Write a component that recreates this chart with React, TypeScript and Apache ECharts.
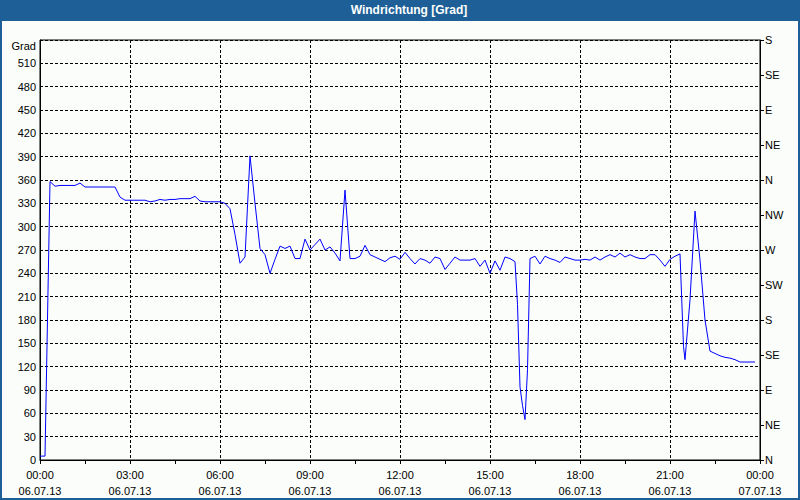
import React, { useEffect, useRef } from "react";
import * as echarts from "echarts";

const times = [
  "00:00", "00:10", "00:20", "00:30", "00:40", "00:50", "01:00", "01:10", "01:20", "01:30",
  "01:40", "01:50", "02:00", "02:10", "02:20", "02:30", "02:40", "02:50", "03:00", "03:10",
  "03:20", "03:30", "03:40", "03:50", "04:00", "04:10", "04:20", "04:30", "04:40", "04:50",
  "05:00", "05:10", "05:20", "05:30", "05:40", "05:50", "06:00", "06:10", "06:20", "06:30",
  "06:40", "06:50", "07:00", "07:10", "07:20", "07:30", "07:40", "07:50", "08:00", "08:10",
  "08:20", "08:30", "08:40", "08:50", "09:00", "09:10", "09:20", "09:30", "09:40", "09:50",
  "10:00", "10:10", "10:20", "10:30", "10:40", "10:50", "11:00", "11:10", "11:20", "11:30",
  "11:40", "11:50", "12:00", "12:10", "12:20", "12:30", "12:40", "12:50", "13:00", "13:10",
  "13:20", "13:30", "13:40", "13:50", "14:00", "14:10", "14:20", "14:30", "14:40", "14:50",
  "15:00", "15:10", "15:20", "15:30", "15:40", "15:50", "15:55", "16:00", "16:05", "16:10",
  "16:15", "16:20", "16:30", "16:40", "16:50", "17:00", "17:10", "17:20", "17:30", "17:40",
  "17:50", "18:00", "18:10", "18:20", "18:30", "18:40", "18:50", "19:00", "19:10", "19:20",
  "19:30", "19:40", "19:50", "20:00", "20:10", "20:20", "20:30", "20:40", "20:50", "21:00",
  "21:10", "21:20", "21:27", "21:30", "21:40", "21:50", "22:00", "22:10", "22:20", "22:30",
  "22:40", "22:50", "23:00", "23:10", "23:20", "23:30", "23:40", "23:50"
];

const values = [
  5, 5, 358, 352, 353, 353, 353, 353, 356, 351,
  351, 351, 351, 351, 351, 351, 338, 334, 334, 334,
  334, 334, 332, 333, 335, 334, 335, 335, 336, 336,
  336, 339, 333, 332, 332, 332, 332, 330, 323, 290,
  253, 261, 391, 330, 272, 264, 240, 258, 275, 272,
  275, 259, 259, 284, 270, 277, 284, 270, 274, 266,
  256, 347, 259, 259, 262, 276, 264, 261, 258, 255,
  260, 262, 258, 267, 259, 252, 259, 257, 253, 261,
  259, 245, 253, 261, 257, 257, 257, 259, 249, 257,
  240, 256, 244, 261, 259, 255, 200, 94, 70, 52,
  116, 259, 262, 252, 262, 259, 257, 254, 261, 259,
  257, 257, 258, 257, 261, 257, 261, 264, 261, 266,
  261, 264, 261, 259, 259, 264, 264, 257, 249, 258,
  262, 265, 146, 129, 206, 320, 257, 180, 140, 137,
  134, 132, 131, 129, 126, 126, 126, 126
];

const directionLabels = ["N", "NE", "E", "SE", "S", "SW", "W", "NW", "N", "NE", "E", "SE", "S"];
const dates = ["06.07.13", "07.07.13"];
const unitLabel = "Grad";
const titleText = "Windrichtung [Grad]";

function toMinutes(t: string): number {
  const [h, m] = t.split(":").map(Number);
  return h * 60 + m;
}

function pad(n: number): string {
  return n < 10 ? "0" + n : String(n);
}

export default function App() {
  const ref = useRef<HTMLDivElement>(null);

  useEffect(() => {
    if (!ref.current) return;
    const chart = echarts.init(ref.current, undefined, { renderer: "svg" });
    const data = times.map((t, i) => [toMinutes(t), values[i]]);
    const frame = "#1d5f96";
    const font = "Liberation Sans";

    chart.setOption({
      animation: false,
      backgroundColor: "#fafdfa",
      textStyle: { fontFamily: font },
      graphic: [
        { type: "rect", silent: true, shape: { x: 0, y: 0, width: 800, height: 21 }, style: { fill: frame } },
        { type: "rect", silent: true, shape: { x: 0, y: 0, width: 2, height: 500 }, style: { fill: frame } },
        { type: "rect", silent: true, shape: { x: 798, y: 0, width: 2, height: 500 }, style: { fill: frame } },
        { type: "rect", silent: true, shape: { x: 0, y: 498, width: 800, height: 2 }, style: { fill: frame } },
        {
          type: "text",
          x: 409,
          y: 10,
          style: {
            text: titleText,
            fill: "#ffffff",
            font: `bold 12px "${font}"`,
            textAlign: "center",
            textVerticalAlign: "middle",
          },
        },
      ],
      grid: {
        left: 40,
        right: 40,
        top: 40,
        bottom: 40,
        show: true,
        borderColor: "#000",
        borderWidth: 1,
        backgroundColor: "transparent",
      },
      xAxis: {
        type: "value",
        min: 0,
        max: 1440,
        interval: 180,
        axisLine: { show: true, lineStyle: { color: "#000", width: 1 } },
        axisTick: { show: true, inside: false, length: 4, lineStyle: { color: "#000" } },
        minorTick: { show: true, splitNumber: 2, length: 4, lineStyle: { color: "#000" } },
        splitLine: { show: true, lineStyle: { color: "#000", type: [3, 2], width: 1 } },
        axisLabel: {
          color: "#000",
          fontSize: 11,
          fontFamily: font,
          lineHeight: 16,
          margin: 7,
          formatter: (v: number) => {
            const day = Math.floor(v / 1440);
            const m = v % 1440;
            return pad(Math.floor(m / 60)) + ":" + pad(m % 60) + "\n" + dates[day];
          },
        },
      },
      yAxis: [
        {
          type: "value",
          position: "left",
          min: 0,
          max: 540,
          interval: 30,
          axisLine: { show: true, lineStyle: { color: "#000", width: 1 } },
          axisTick: { show: false },
          splitLine: { show: true, lineStyle: { color: "#000", type: [3, 2], width: 1 } },
          axisLabel: {
            color: "#000",
            fontSize: 11,
            fontFamily: font,
            margin: 4,
            formatter: (v: number) => (v === 540 ? "{g|" + unitLabel + "}" : String(v)),
            rich: { g: { fontSize: 11, fontFamily: font, color: "#000", padding: [12, 0, 0, 0] } },
          },
        },
        {
          type: "value",
          position: "right",
          min: 0,
          max: 540,
          interval: 45,
          axisLine: { show: true, lineStyle: { color: "#000", width: 1 } },
          axisTick: { show: true, inside: false, length: 4, lineStyle: { color: "#000" } },
          splitLine: { show: false },
          axisLabel: {
            color: "#000",
            fontSize: 11,
            fontFamily: font,
            margin: 5,
            padding: [4, 0, 0, 0],
            formatter: (v: number) => directionLabels[Math.round(v / 45)] ?? "",
          },
        },
      ],
      series: [
        {
          type: "line",
          yAxisIndex: 0,
          data,
          showSymbol: false,
          symbol: "none",
          lineStyle: { color: "#0000ff", width: 1 },
          emphasis: { disabled: true },
        },
      ],
    });

    return () => chart.dispose();
  }, []);

  return (
    <div
      ref={ref}
      style={{ position: "absolute", left: 0, top: 0, width: 800, height: 500 }}
    />
  );
}
